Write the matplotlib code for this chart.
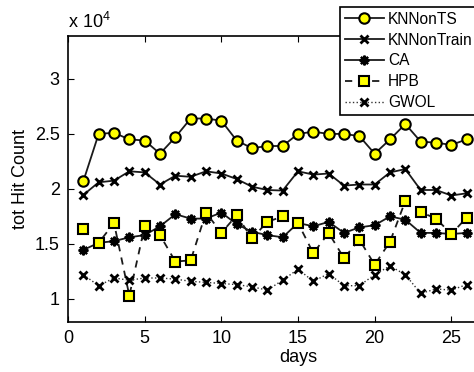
import numpy as np
import matplotlib
matplotlib.use('Agg')
import matplotlib.pyplot as plt

plt.rcParams['font.family'] = ['Liberation Sans', 'DejaVu Sans']
plt.rcParams['mathtext.fontset'] = 'custom'
plt.rcParams['mathtext.rm'] = 'Liberation Sans'
plt.rcParams['mathtext.it'] = 'Liberation Sans'

days = np.arange(1, 27)

# hit counts in units of 1e4
knn_ts = [2.07, 2.50, 2.51, 2.45, 2.44, 2.32, 2.47, 2.64, 2.64, 2.62, 2.44, 2.37, 2.39,
          2.39, 2.50, 2.52, 2.50, 2.50, 2.48, 2.32, 2.45, 2.59, 2.43, 2.42, 2.40, 2.45]
knn_train = [1.945, 2.06, 2.075, 2.16, 2.15, 2.04, 2.12, 2.11, 2.16, 2.14, 2.09, 2.02, 1.99,
             1.985, 2.16, 2.13, 2.14, 2.03, 2.04, 2.04, 2.15, 2.18, 1.99, 1.99, 1.94, 1.96]
ca = [1.445, 1.51, 1.525, 1.56, 1.58, 1.66, 1.77, 1.73, 1.73, 1.785, 1.68, 1.61, 1.58,
      1.56, 1.69, 1.66, 1.70, 1.60, 1.65, 1.67, 1.75, 1.72, 1.60, 1.60, 1.59, 1.60]
hpb = [1.64, 1.51, 1.69, 1.03, 1.66, 1.58, 1.34, 1.35, 1.785, 1.60, 1.76, 1.55, 1.70,
       1.75, 1.69, 1.415, 1.60, 1.37, 1.54, 1.31, 1.52, 1.89, 1.79, 1.73, 1.59, 1.74]
gwol = [1.22, 1.12, 1.19, 1.17, 1.19, 1.19, 1.18, 1.16, 1.15, 1.14, 1.13, 1.11, 1.08,
        1.17, 1.27, 1.16, 1.23, 1.12, 1.12, 1.22, 1.30, 1.22, 1.05, 1.09, 1.08, 1.13]

fig = plt.figure(figsize=(4.74, 3.72), dpi=100)
ax = fig.add_axes([68/474, 50/372, 460/474, 286/372])

lc = '#1a1a1a'
ax.plot(days, knn_ts, '-o', color=lc, lw=1.3, ms=7.5, mfc='yellow', mec='black', mew=1.5,
        label='KNNonTS')
ax.plot(days, knn_train, '-x', color=lc, lw=1.3, ms=6, mec='black', mew=2,
        label='KNNonTrain')
ax.plot(days, ca, '-', marker=(8, 2, 0), color=lc, lw=1.3, ms=7, mec='black', mew=1.6,
        label='CA')
ax.plot(days, hpb, '--s', color=lc, lw=1.3, dashes=(4, 3.5), ms=6.5, mfc='yellow', mec='black',
        mew=1.5, label='HPB')
ax.plot(days, gwol, ':x', color='#333333', lw=1, ms=6, mec='black', mew=2, label='GWOL')

ax.set_xlim(0, 30)
ax.set_ylim(0.79, 3.39)
ax.set_xticks([0, 5, 10, 15, 20, 25])
ax.set_yticks([1, 1.5, 2, 2.5, 3])
ax.set_yticklabels(['1', '1.5', '2', '2.5', '3'])
ax.tick_params(direction='in', top=True, right=True, labelsize=13, length=4, width=0.8, pad=6)
for s in ax.spines.values():
    s.set_linewidth(1.2)

ax.set_xlabel('days', fontsize=13, labelpad=1)
ax.set_ylabel('tot Hit Count', fontsize=13, labelpad=4)
fig.text(68/474, 1 - 28/372, r'x 10$^{4}$', fontsize=13, ha='left', va='baseline')

leg = fig.legend(loc='upper left', bbox_to_anchor=(340/474, 1 - 7/372), fontsize=11.2,
                 frameon=True, fancybox=False, handlelength=2.5, handletextpad=0.3,
                 labelspacing=0.38, borderpad=0.3, borderaxespad=0)
leg.get_frame().set_edgecolor('black')
leg.get_frame().set_linewidth(1.2)
leg.get_frame().set_alpha(1)

fig.savefig('out.png', dpi=100)
